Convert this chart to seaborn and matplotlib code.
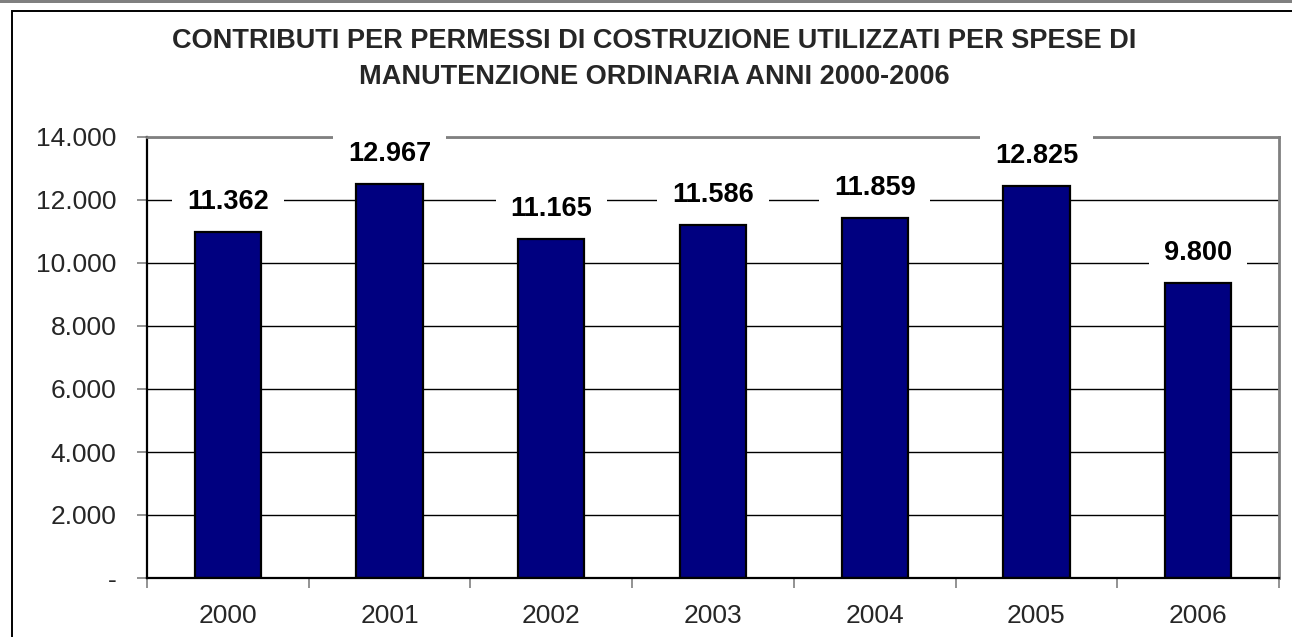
"""Contributi per permessi di costruzione - bar chart 2000-2006."""

import matplotlib.pyplot as plt
import pandas as pd
import seaborn as sns
from matplotlib.patches import Rectangle
from matplotlib.ticker import FixedLocator, FuncFormatter

YEARS = ["2000", "2001", "2002", "2003", "2004", "2005", "2006"]
BAR_HEIGHTS = [10980, 12500, 10755, 11200, 11420, 12440, 9360]
VALUE_LABELS = ["11.362", "12.967", "11.165", "11.586", "11.859", "12.825", "9.800"]
Y_TICKS = [0, 2000, 4000, 6000, 8000, 10000, 12000, 14000]
TITLE = (
    "CONTRIBUTI PER PERMESSI DI COSTRUZIONE UTILIZZATI PER SPESE DI\n"
    "MANUTENZIONE ORDINARIA ANNI 2000-2006"
)

BAR_COLOR = "#000080"
GRAY = "#808080"

sns.set_theme(style="white")
plt.rcParams["font.family"] = ["Liberation Sans", "DejaVu Sans"]

df = pd.DataFrame({"year": YEARS, "value": BAR_HEIGHTS})

fig = plt.figure(figsize=(12.92, 6.37), dpi=100)
fig.patch.set_facecolor("white")
axis = fig.add_axes([147 / 1292, 1 - 578 / 637, (1279 - 147) / 1292, (578 - 137) / 637])

sns.barplot(
    data=df,
    x="year",
    y="value",
    ax=axis,
    color=BAR_COLOR,
    edgecolor="black",
    linewidth=1.6,
    width=0.41,
    saturation=1,
    zorder=2,
)

axis.set_ylim(0, 14000)
axis.set_xlim(-0.5, len(YEARS) - 0.5)
axis.set_yticks(Y_TICKS)
axis.yaxis.set_major_formatter(
    FuncFormatter(lambda v, _: "-" if v == 0 else f"{int(v):,}".replace(",", "."))
)
axis.yaxis.grid(True, color="black", linewidth=1.0, zorder=0)
axis.set_axisbelow(True)
axis.set_xlabel("")
axis.set_ylabel("")

# x ticks sit between the categories, labels in the middle
axis.xaxis.set_major_locator(FixedLocator([i - 0.5 for i in range(len(YEARS) + 1)]))
axis.xaxis.set_minor_locator(FixedLocator(range(len(YEARS))))
axis.set_xticklabels([])
axis.set_xticklabels(YEARS, minor=True)
axis.tick_params(axis="x", which="major", direction="out", length=7, width=1.2,
                 color=GRAY, bottom=True)
axis.tick_params(axis="x", which="minor", length=0, pad=19, labelsize=19, bottom=True)
axis.tick_params(axis="y", direction="out", length=7, width=1.2, color=GRAY,
                 pad=15, labelsize=19, left=True)

for side in ["left", "bottom"]:
    axis.spines[side].set_color("black")
    axis.spines[side].set_linewidth(1.6)
for side in ["top", "right"]:
    axis.spines[side].set_color(GRAY)
    axis.spines[side].set_linewidth(2.0)

for patch, label in zip(axis.patches, VALUE_LABELS):
    axis.annotate(
        label,
        (patch.get_x() + patch.get_width() / 2, patch.get_height()),
        xytext=(0, 22),
        textcoords="offset points",
        ha="center",
        va="center",
        fontsize=19.5,
        fontweight="bold",
        color="black",
        bbox=dict(boxstyle="square,pad=0.55", facecolor="white", edgecolor="none"),
        annotation_clip=False,
        zorder=5,
    )

fig.text(654 / 1292, 1 - 59 / 637, TITLE, ha="center", va="center",
         fontsize=19.5, fontweight="bold", linespacing=1.55)

# outer chart frame like the spreadsheet chart area
fig.patches.append(Rectangle((12 / 1292, -0.1), 1.2, 1 - 11 / 637 + 0.1,
                             transform=fig.transFigure, fill=False,
                             edgecolor="black", linewidth=1.4))
fig.patches.append(Rectangle((0, 1 - 3 / 637), 1, 3 / 637, transform=fig.transFigure,
                             facecolor=GRAY, edgecolor="none"))

fig.savefig("out.png", dpi=100)
